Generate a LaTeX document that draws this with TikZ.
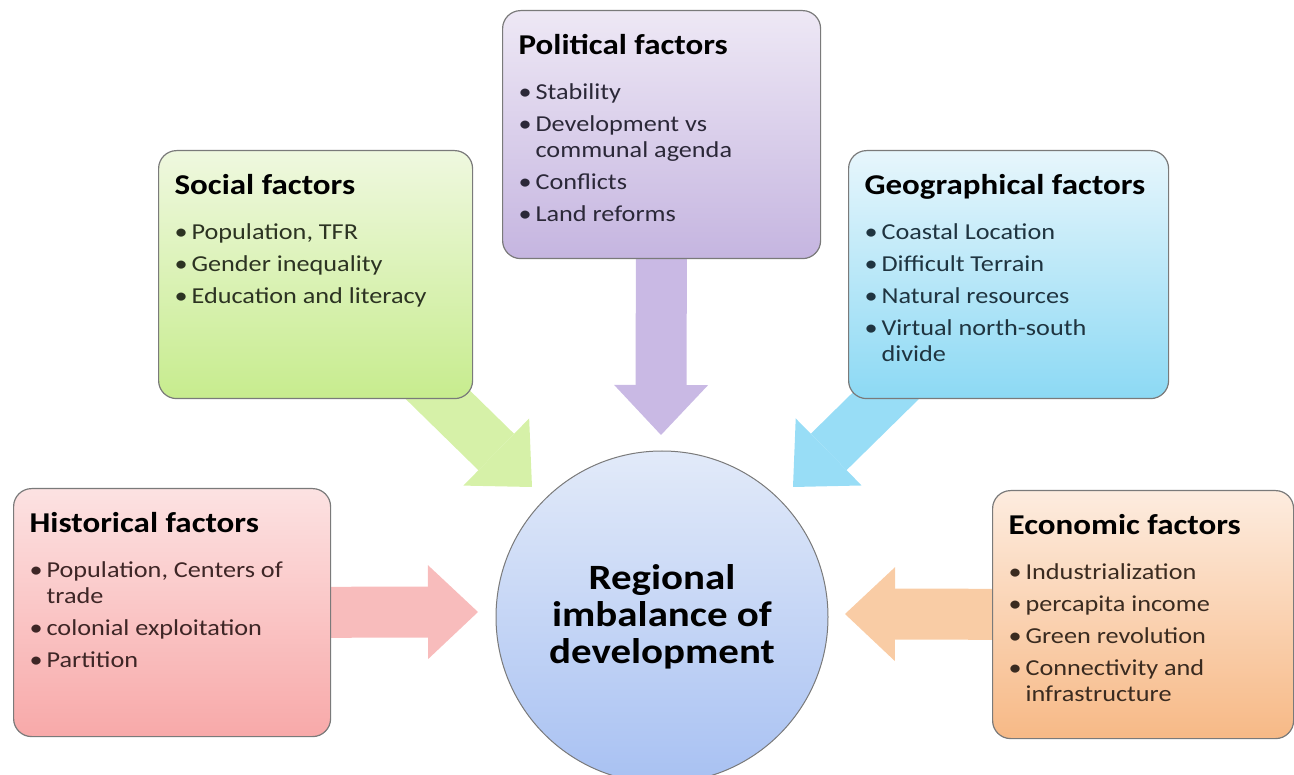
\documentclass[tikz,border=0pt]{standalone}
\usepackage{fontspec}
\setmainfont{Carlito}[FakeStretch=1.15]
\usetikzlibrary{arrows.meta,backgrounds}

\definecolor{boxline}{HTML}{7A7A7A}
\definecolor{histtop}{HTML}{FCE2E2}\definecolor{histbot}{HTML}{F8A9A9}\definecolor{histflow}{HTML}{F8BCBC}\definecolor{histtext}{HTML}{3E2626}
\definecolor{soctop}{HTML}{EFF8DF}\definecolor{socbot}{HTML}{C7EC8E}\definecolor{socflow}{HTML}{D6F1A8}\definecolor{soctext}{HTML}{2C3322}
\definecolor{poltop}{HTML}{EEE8F5}\definecolor{polbot}{HTML}{C5B5E0}\definecolor{polflow}{HTML}{C9B9E4}\definecolor{poltext}{HTML}{2B2838}
\definecolor{geotop}{HTML}{E7F6FC}\definecolor{geobot}{HTML}{8CD9F4}\definecolor{geoflow}{HTML}{98DDF6}\definecolor{geotext}{HTML}{1F3440}
\definecolor{ecotop}{HTML}{FDECDF}\definecolor{ecobot}{HTML}{F7B986}\definecolor{ecoflow}{HTML}{F9CCA5}\definecolor{ecotext}{HTML}{3A2B20}
\definecolor{hubtop}{HTML}{E2EAF9}\definecolor{hubbot}{HTML}{A8C1F2}

% box text: width, title, items
\newcommand{\factortext}[3]{%
  \parbox[t][248pt][t]{#1}{\raggedright
    \rule{0pt}{44pt}{\color{black}\fontsize{28.7}{32}\selectfont\bfseries #2}\par
    \vspace{13pt}
    \fontsize{22.8}{26}\selectfont\parskip=6pt #3}}
\newcommand{\fitem}[1]{\hangindent=17pt\hangafter=1\noindent\makebox[17pt][l]{\textbullet}#1\par}

\begin{document}
\begin{tikzpicture}[x=1pt,y=-1pt,
    factor/.style={draw=boxline, line width=1.2pt, rounded corners=18pt,
      inner xsep=16pt, inner ysep=0pt, anchor=north west},
    flow/.style={line width=51pt, shorten <=-30pt,
      -{Triangle[width=94pt,length=50pt,line width=0pt]}}]
  \useasboundingbox (0,0) rectangle (1294,775);
  \clip (0,0) rectangle (1294,775);

  % the five factor boxes
  \node[factor, top color=histtop, bottom color=histbot, text=histtext] (hist) at (13,488)
    {\factortext{285pt}{Historical factors}{\fitem{Population, Centers of\newline trade}\fitem{colonial exploitation}\fitem{Partition}}};
  \node[factor, top color=soctop, bottom color=socbot, text=soctext] (soc) at (158,150)
    {\factortext{282pt}{Social factors}{\fitem{Population, TFR}\fitem{Gender inequality}\fitem{Education and literacy}}};
  \node[factor, top color=poltop, bottom color=polbot, text=poltext] (pol) at (502,10)
    {\factortext{286pt}{Political factors}{\fitem{Stability}\fitem{Development vs\newline communal agenda}\fitem{Conflicts}\fitem{Land reforms}}};
  \node[factor, top color=geotop, bottom color=geobot, text=geotext] (geo) at (848,150)
    {\factortext{288pt}{Geographical factors}{\fitem{Coastal Location}\fitem{Difficult Terrain}\fitem{Natural resources}\fitem{Virtual north-south\newline divide}}};
  \node[factor, top color=ecotop, bottom color=ecobot, text=ecotext] (eco) at (992,490)
    {\factortext{269pt}{Economic factors}{\fitem{Industrialization}\fitem{percapita income}\fitem{Green revolution}\fitem{Connectivity and\newline infrastructure}}};

  \node[circle, draw=boxline, line width=1pt, top color=hubtop, bottom color=hubbot,
    minimum size=332pt, align=center, font=\fontsize{35.6}{37}\selectfont\bfseries] (hub) at (662,617)
    {Regional\\imbalance of\\development};

  \coordinate (histtip) at (478,612);
  \coordinate (soctip) at (532,487);
  \coordinate (poltip) at (661,435);
  \coordinate (geotip) at (793,487);
  \coordinate (ecotip) at (845,614);

  % block arrows behind the boxes
  \begin{scope}[on background layer]
    \draw[flow, draw=histflow] (hist) -- (histtip);
    \draw[flow, draw=socflow] (soc) -- (soctip);
    \draw[flow, draw=polflow] (pol) -- (poltip);
    \draw[flow, draw=geoflow] (geo) -- (geotip);
    \draw[flow, draw=ecoflow] (eco) -- (ecotip);
  \end{scope}
\end{tikzpicture}
\end{document}
